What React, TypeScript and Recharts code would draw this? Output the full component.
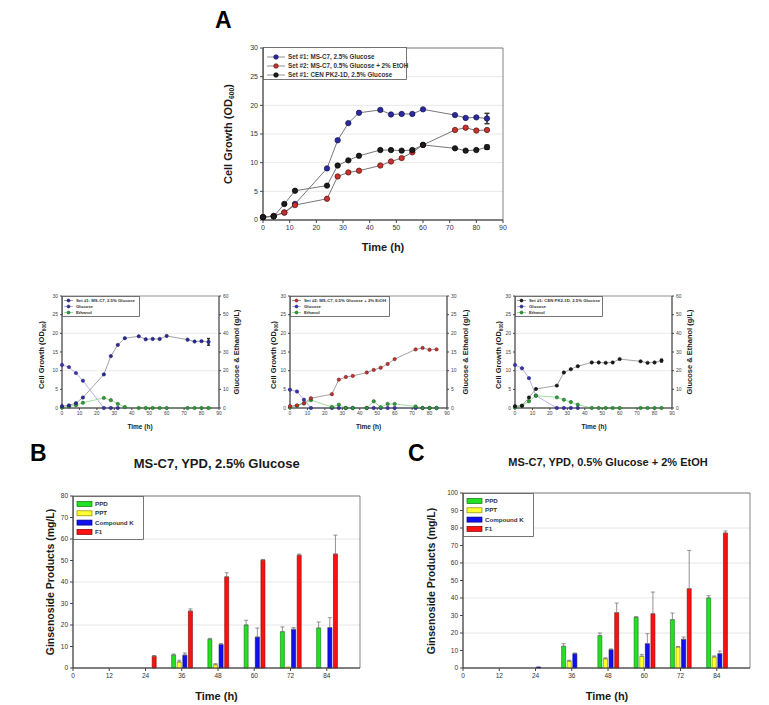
import React from 'react'
import { ComposedChart, Line, Bar, XAxis, YAxis, CartesianGrid, ErrorBar, ReferenceArea, Legend } from 'recharts'

const FONT = '"Liberation Sans", Arial, sans-serif'

// sampling times for growth curves (h)
const hours = [0, 4, 8, 12, 24, 28, 32, 36, 44, 48, 52, 56, 60, 72, 76, 80, 84]

// cell growth (OD600)
const cellMsc7Glc = [0.5, 0.7, 1.3, 2.8, 9.0, 13.9, 16.9, 18.7, 19.2, 18.4, 18.5, 18.5, 19.3, 18.3, 17.8, 17.9, 17.7]
const cellMsc7GlcErr = [null, null, null, null, null, null, null, null, null, null, null, null, null, null, null, null, 0.9]
const cellMsc7Eth = [0.5, 0.7, 1.3, 2.6, 3.7, 7.6, 8.3, 8.6, 9.5, 10.2, 10.8, 11.8, 13.1, 15.7, 16.1, 15.6, 15.7]
const cellCenpk = [0.5, 0.6, 2.8, 5.1, 6.0, 9.5, 10.4, 11.2, 12.2, 12.2, 12.1, 12.2, 13.1, 12.5, 12.1, 12.2, 12.7]
const cellCenpkErr = [null, null, null, null, null, null, null, null, null, null, null, null, null, null, null, null, 0.35]

// glucose & ethanol (g/L)
const glcSet1 = [23.1, 21.9, 18.7, 14.6, 0, 0, 0, null, null, null, null, null, null, null, null, null, null]
const ethSet1 = [0.3, 0.8, 1.5, 2.8, 5.4, 4.2, 2.2, 0.5, 0, 0, 0, 0, 0, 0, 0, 0, 0]
const glcSet2 = [4.9, 4.4, 2.2, 0, 0, 0, 0, 0, 0, 0, 0, 0, 0, 0, 0, 0, 0]
const ethSet2 = [0.2, 0.6, 1.2, 2.1, 0.3, 0.9, 0, 0, 0, 1.8, 0.2, 1.1, 1.1, 0.4, 0, 0, 0]
const glcCen = [23.1, 21.3, 16.0, 6.6, 0, 0, 0, 0, null, null, null, null, null, null, null, null, null]
const ethCen = [0.4, 1.2, 3.6, 6.6, 5.7, 4.4, 3.2, 1.8, 0, 0, 0, 0, 0, 0, 0, 0, 0]

// ginsenoside products (mg/L)
const sampleHours = [0, 12, 24, 36, 48, 60, 72, 84]
const ppdB = [0, 0, 0, 6.0, 13.4, 20.0, 16.9, 18.6]
const pptB = [0, 0, 0, 2.8, 1.5, 0, 0.5, 0]
const ckB = [0, 0, 0, 6.0, 11.0, 14.4, 18.0, 18.8]
const f1B = [0, 0, 5.5, 26.5, 42.4, 50.2, 52.5, 53.0]
const ppdBErr = [0, 0, 0, 0.5, 0.4, 2.2, 2.2, 2.8]
const pptBErr = [0, 0, 0, 0.8, 0.5, 0, 0, 0]
const ckBErr = [0, 0, 0, 1.0, 0.3, 4.2, 0.8, 4.6]
const f1BErr = [0, 0, 0.3, 1.0, 1.9, 0.3, 0.5, 8.8]

const ppdC = [0, 0, 0, 12.4, 18.5, 29.0, 27.6, 40.0]
const pptC = [0, 0, 0, 4.0, 5.3, 6.7, 12.0, 6.3]
const ckC = [0, 0, 0.6, 8.2, 10.5, 13.9, 16.4, 8.2]
const f1C = [0, 0, 0, 0, 31.6, 31.0, 45.3, 77.1]
const ppdCErr = [0, 0, 0, 1.5, 1.5, 0.3, 3.8, 1.3]
const pptCErr = [0, 0, 0, 0.4, 0.5, 1.1, 0.3, 0.6]
const ckCErr = [0, 0, 0, 0.4, 0.4, 5.7, 1.3, 1.5]
const f1CErr = [0, 0, 0, 0, 5.5, 12.4, 21.9, 1.2]

const growthTicksX = [0, 10, 20, 30, 40, 50, 60, 70, 80, 90]
const growthTicksY = [0, 5, 10, 15, 20, 25, 30]

const growthSeries = [
    { key: 'msc7', err: 'msc7Err', name: 'Set #1: MS-C7, 2.5% Glucose', fill: '#2a2a9e', edge: '#101050' },
    { key: 'set2', err: null, name: 'Set #2: MS-C7, 0.5% Glucose + 2% EtOH', fill: '#c8322c', edge: '#5a1010' },
    { key: 'cen', err: 'cenErr', name: 'Set #1: CEN PK2-1D, 2.5% Glucose', fill: '#1c1c1c', edge: '#000000' },
]

const growthRows = hours.map((h, i) => ({
    h,
    msc7: cellMsc7Glc[i],
    msc7Err: cellMsc7GlcErr[i],
    set2: cellMsc7Eth[i],
    cen: cellCenpk[i],
    cenErr: cellCenpkErr[i],
}))

const up = (e: number) => (e ? [0, e] : null)

const productSeries = [
    { key: 'ppd', name: 'PPD', fill: '#22e022', edge: '#0a7a0a' },
    { key: 'ppt', name: 'PPT', fill: '#ffff30', edge: '#8a8a00' },
    { key: 'ck', name: 'Compound K', fill: '#1010f0', edge: '#000070' },
    { key: 'f1', name: 'F1', fill: '#ff1010', edge: '#800000' },
]

const rowsB = sampleHours.map((t, i) => ({
    t, ppd: ppdB[i], ppt: pptB[i], ck: ckB[i], f1: f1B[i],
    ppdErr: up(ppdBErr[i]), pptErr: up(pptBErr[i]), ckErr: up(ckBErr[i]), f1Err: up(f1BErr[i]),
}))
const rowsC = sampleHours.map((t, i) => ({
    t, ppd: ppdC[i], ppt: pptC[i], ck: ckC[i], f1: f1C[i],
    ppdErr: up(ppdCErr[i]), pptErr: up(pptCErr[i]), ckErr: up(ckCErr[i]), f1Err: up(f1CErr[i]),
}))

function Txt({ x, y, size, children, rotate = false, weight = 'bold' }: any) {
    return (
        <div style={{
            position: 'absolute', left: x, top: y, whiteSpace: 'nowrap',
            transform: rotate ? 'translate(-50%,-50%) rotate(-90deg)' : 'translate(-50%,-50%)',
            fontFamily: FONT, fontWeight: weight as any, fontSize: size, lineHeight: 1, color: '#1a1a1a',
        }}>{children}</div>
    )
}

const Sub = ({ children }: any) => <sub style={{ fontSize: '0.62em', verticalAlign: '-0.3em' }}>{children}</sub>

function LineLegend({ items, w, h, y0, dy, x0, len, fs, r }: any) {
    return (
        <svg width={w} height={h} style={{ display: 'block', overflow: 'visible' }}>
            <rect x={0.5} y={0.5} width={w - 1} height={h - 1} fill="#fff" stroke="#555" strokeWidth={0.8} />
            {items.map((it: any, i: number) => {
                const y = y0 + i * dy
                return (
                    <g key={i}>
                        <line x1={x0} x2={x0 + len} y1={y} y2={y} stroke={it.line || '#777'} strokeWidth={0.8} />
                        <circle cx={x0 + len / 2} cy={y} r={r} fill={it.fill} stroke={it.edge} strokeWidth={0.6} />
                        <text x={x0 + len + 3} y={y} dy="0.35em" fontSize={fs} fontWeight="bold" fill="#333" fontFamily={FONT}>{it.name}</text>
                    </g>
                )
            })}
        </svg>
    )
}

function BarLegend({ w, h }: any) {
    return (
        <svg width={w} height={h} style={{ display: 'block', overflow: 'visible' }}>
            <rect x={0.5} y={0.5} width={w - 1} height={h - 1} fill="#fff" stroke="#555" strokeWidth={0.8} />
            {productSeries.map((s, i) => {
                const y = 8 + i * 9.3
                return (
                    <g key={s.key}>
                        <rect x={4} y={y - 2.5} width={15} height={5} fill={s.fill} stroke={s.edge} strokeWidth={0.7} />
                        <text x={22} y={y} dy="0.35em" fontSize={6.2} fontWeight="bold" fill="#333" fontFamily={FONT}>{s.name}</text>
                    </g>
                )
            })}
        </svg>
    )
}

const axisStroke = '#444'

function GrowthChart() {
    return (
        <div style={{ position: 'absolute', left: 200, top: 30 }}>
            <ComposedChart width={320} height={230} data={growthRows} margin={{ top: 18, right: 17, bottom: 0, left: 0 }}>
                <CartesianGrid vertical={false} stroke="#e8e8e8" />
                <XAxis dataKey="h" type="number" domain={[0, 90]} ticks={growthTicksX} height={40} tickSize={3}
                    stroke={axisStroke} tick={{ fontSize: 7, fill: '#333', fontFamily: FONT }} />
                <YAxis type="number" domain={[0, 30]} ticks={growthTicksY} width={63} tickSize={3}
                    stroke={axisStroke} tick={{ fontSize: 7, fill: '#333', fontFamily: FONT }} />
                <ReferenceArea x1={0} x2={90} y1={0} y2={30} fill="none" stroke="#666" strokeWidth={0.8} />
                {growthSeries.map(s => (
                    <Line key={s.key} dataKey={s.key} stroke="#777" strokeWidth={1} isAnimationActive={false}
                        dot={{ r: 2.7, fill: s.fill, stroke: s.edge, strokeWidth: 0.7 }}>
                        {s.err ? <ErrorBar dataKey={s.err} direction="y" width={2.5} stroke="#333" /> : null}
                    </Line>
                ))}
                <Legend layout="horizontal" verticalAlign="middle" align="center"
                    wrapperStyle={{ left: 63, top: 17, width: 144, height: 33 }}
                    content={() => <LineLegend items={growthSeries} w={144} h={33} y0={10} dy={9} x0={4} len={18} fs={6.3} r={2.3} />} />
            </ComposedChart>
        </div>
    )
}

const glcStyle = { fill: '#3a34b0', edge: '#1c1a60', line: '#a39ee0' }
const ethStyle = { fill: '#2f9c3a', edge: '#145a1a', line: '#8cd08c' }

function MiniPanel({ left, cell, cellErr, glc, eth, rightMax, name, color, legendW }: any) {
    const rows = hours.map((h, i) => ({ h, cell: cell[i], cellErr: cellErr ? cellErr[i] : null, glc: glc[i], eth: eth[i] }))
    const rightTicks = rightMax === 60 ? [0, 10, 20, 30, 40, 50, 60] : [0, 5, 10, 15, 20, 25, 30]
    const items = [
        { name, fill: color.fill, edge: color.edge, line: '#888' },
        { name: 'Glucose', ...glcStyle },
        { name: 'Ethanol', ...ethStyle },
    ]
    const tick = { fontSize: 5, fill: '#444', fontFamily: FONT }
    return (
        <div style={{ position: 'absolute', left, top: 286 }}>
            <ComposedChart width={220} height={132} data={rows} margin={{ top: 10, right: 11, bottom: 0, left: 0 }}>
                <CartesianGrid vertical={false} stroke="#ececec" yAxisId="l" />
                <XAxis dataKey="h" type="number" domain={[0, 90]} ticks={growthTicksX} height={10} tickSize={2}
                    tickMargin={1} stroke={axisStroke} tick={tick} />
                <YAxis yAxisId="l" type="number" domain={[0, 30]} ticks={growthTicksY} width={32} tickSize={2}
                    tickMargin={2} stroke={axisStroke} tick={tick} />
                <YAxis yAxisId="r" orientation="right" type="number" domain={[0, rightMax]} ticks={rightTicks} width={20}
                    tickSize={2} tickMargin={2} stroke={axisStroke} tick={tick} />
                <ReferenceArea yAxisId="l" x1={0} x2={90} y1={0} y2={30} fill="none" stroke="#777" strokeWidth={0.7} />
                <Line yAxisId="r" dataKey="glc" stroke={glcStyle.line} strokeWidth={0.8} isAnimationActive={false}
                    dot={{ r: 1.7, fill: glcStyle.fill, stroke: glcStyle.edge, strokeWidth: 0.5 }} />
                <Line yAxisId="r" dataKey="eth" stroke={ethStyle.line} strokeWidth={0.8} isAnimationActive={false}
                    dot={{ r: 1.7, fill: ethStyle.fill, stroke: ethStyle.edge, strokeWidth: 0.5 }} />
                <Line yAxisId="l" dataKey="cell" stroke="#8a8a8a" strokeWidth={0.8} isAnimationActive={false}
                    dot={{ r: 1.7, fill: color.fill, stroke: color.edge, strokeWidth: 0.5 }}>
                    <ErrorBar dataKey="cellErr" direction="y" width={1.5} stroke="#333" />
                </Line>
                <Legend layout="horizontal" verticalAlign="middle" align="center"
                    wrapperStyle={{ left: 32, top: 10, width: legendW, height: 21 }}
                    content={() => <LineLegend items={items} w={legendW} h={21} y0={4.5} dy={6} x0={2} len={9} fs={4.3} r={1.5} />} />
            </ComposedChart>
        </div>
    )
}

function ProductChart({ left, top, height, rows, yMax, yTicks }: any) {
    const tick = { fontSize: 6.5, fill: '#333', fontFamily: FONT }
    return (
        <div style={{ position: 'absolute', left, top }}>
            <ComposedChart width={340} height={height} data={rows} barSize={4} barGap={1.6}
                margin={{ top: 10, right: 3, bottom: 0, left: 0 }}>
                <CartesianGrid vertical={false} stroke="#e6e6e6" />
                <XAxis dataKey="t" type="number" domain={[0, 95]} ticks={sampleHours} height={14} tickSize={3}
                    stroke={axisStroke} tick={tick} />
                <YAxis type="number" domain={[0, yMax]} ticks={yTicks} width={50} tickSize={3}
                    stroke={axisStroke} tick={tick} />
                <ReferenceArea x1={0} x2={95} y1={0} y2={yMax} fill="none" stroke="#666" strokeWidth={0.8} />
                {productSeries.map(s => (
                    <Bar key={s.key} dataKey={s.key} fill={s.fill} stroke={s.edge} strokeWidth={0.6} isAnimationActive={false}>
                        <ErrorBar dataKey={s.key + 'Err'} direction="y" width={2} stroke="#777" strokeWidth={0.8} />
                    </Bar>
                ))}
                <Legend layout="horizontal" verticalAlign="middle" align="center"
                    wrapperStyle={{ left: 50, top: 10, width: 71, height: 44 }}
                    content={() => <BarLegend w={71} h={44} />} />
            </ComposedChart>
        </div>
    )
}

export default function App() {
    return (
        <div style={{ position: 'absolute', left: 0, top: 0, width: 769, height: 705, background: '#fff', overflow: 'hidden' }}>
            <div style={{ position: 'absolute', left: 215, top: 9, fontFamily: FONT, fontWeight: 'bold', fontSize: 23, lineHeight: 1 }}>A</div>
            <GrowthChart />
            <Txt x={383} y={247} size={11}>Time (h)</Txt>
            <Txt x={229} y={134} size={11} rotate>Cell Growth (OD<Sub>600</Sub>)</Txt>

            <MiniPanel left={30} cell={cellMsc7Glc} cellErr={cellMsc7GlcErr} glc={glcSet1} eth={ethSet1} rightMax={60}
                name="Set #1: MS-C7, 2.5% Glucose" color={growthSeries[0]} legendW={78} />
            <MiniPanel left={258} cell={cellMsc7Eth} cellErr={null} glc={glcSet2} eth={ethSet2} rightMax={30}
                name="Set #2: MS-C7, 0.5% Glucose + 2% EtOH" color={growthSeries[1]} legendW={100} />
            <MiniPanel left={483} cell={cellCenpk} cellErr={cellCenpkErr} glc={glcCen} eth={ethCen} rightMax={60}
                name="Set #1: CEN PK2-1D, 2.5% Glucose" color={growthSeries[2]} legendW={88} />
            <Txt x={43} y={355} size={7.5} rotate>Cell Growth (OD<Sub>600</Sub>)</Txt>
            <Txt x={275} y={355} size={7.5} rotate>Cell Growth (OD<Sub>600</Sub>)</Txt>
            <Txt x={500} y={355} size={7.5} rotate>Cell Growth (OD<Sub>600</Sub>)</Txt>
            <Txt x={237} y={352} size={7.5} rotate>Glucose &amp; Ethanol (g/L)</Txt>
            <Txt x={465.5} y={352} size={7.5} rotate>Glucose &amp; Ethanol (g/L)</Txt>
            <Txt x={690} y={352} size={7.5} rotate>Glucose &amp; Ethanol (g/L)</Txt>
            <Txt x={140} y={427} size={6.5}>Time (h)</Txt>
            <Txt x={368.5} y={427} size={6.5}>Time (h)</Txt>
            <Txt x={594} y={427} size={6.5}>Time (h)</Txt>

            <div style={{ position: 'absolute', left: 30, top: 442, fontFamily: FONT, fontWeight: 'bold', fontSize: 23, lineHeight: 1 }}>B</div>
            <div style={{ position: 'absolute', left: 408, top: 442, fontFamily: FONT, fontWeight: 'bold', fontSize: 23, lineHeight: 1 }}>C</div>
            <Txt x={216.7} y={463} size={13}>MS-C7, YPD, 2.5% Glucose</Txt>
            <Txt x={608} y={462} size={11}>MS-C7, YPD, 0.5% Glucose + 2% EtOH</Txt>

            <ProductChart left={23} top={486} height={196} rows={rowsB} yMax={80} yTicks={[0, 10, 20, 30, 40, 50, 60, 70, 80]} />
            <ProductChart left={413} top={483} height={199} rows={rowsC} yMax={100} yTicks={[0, 10, 20, 30, 40, 50, 60, 70, 80, 90, 100]} />
            <Txt x={49.5} y={582} size={10.5} rotate>Ginsenoside Products (mg/L)</Txt>
            <Txt x={431} y={581} size={10.5} rotate>Ginsenoside Products (mg/L)</Txt>
            <Txt x={216.5} y={696} size={11}>Time (h)</Txt>
            <Txt x={607} y={696} size={11}>Time (h)</Txt>
        </div>
    )
}
